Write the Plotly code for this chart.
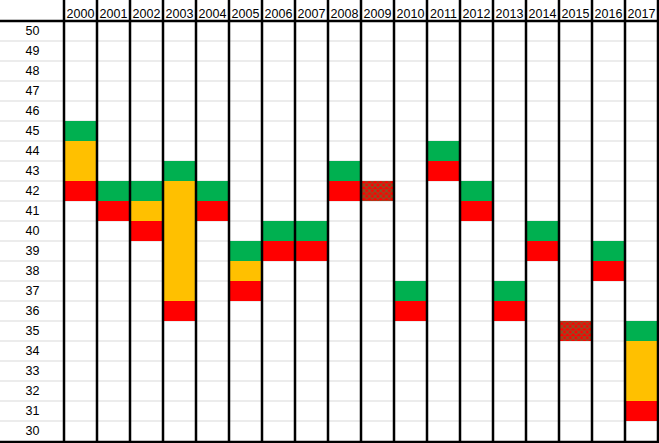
import plotly.graph_objects as go

years = [str(y) for y in range(2000, 2018)]
high = [45, 42, 42, 43, 42, 39, 40, 40, 43, 42, 37, 44, 42, 37, 40, 35, 39, 35]
low = [42, 41, 40, 36, 41, 37, 39, 39, 42, 42, 36, 43, 41, 36, 39, 35, 38, 31]
row_labels = list(range(50, 29, -1))

GREEN = "#00B050"
ORANGE = "#FFC000"
RED = "#FF0000"

ymin, ymax = 29.5, 50.5
W, H = 659, 443
ml, mr, mt, mb = 64, 1, 21, 2
pw = W - ml - mr
ph = H - mt - mb

fig = go.Figure()

# green (high) cells
gx = [x for x, h, l in zip(years, high, low) if h > l]
gh = [h for h, l in zip(high, low) if h > l]
fig.add_trace(go.Bar(x=gx, y=[1] * len(gx), base=[h - 0.5 for h in gh], width=1,
                     marker=dict(color=GREEN, line=dict(width=0)), showlegend=False))
# orange (between) cells
ox = [x for x, h, l in zip(years, high, low) if h - l > 1]
oh = [h - l - 1 for h, l in zip(high, low) if h - l > 1]
ob = [l + 0.5 for h, l in zip(high, low) if h - l > 1]
fig.add_trace(go.Bar(x=ox, y=oh, base=ob, width=1,
                     marker=dict(color=ORANGE, line=dict(width=0)), showlegend=False))
# red (low) cells
rx = [x for x, h, l in zip(years, high, low) if h > l]
rl = [l for h, l in zip(high, low) if h > l]
fig.add_trace(go.Bar(x=rx, y=[1] * len(rx), base=[l - 0.5 for l in rl], width=1,
                     marker=dict(color=RED, line=dict(width=0)), showlegend=False))
# checkered (high == low)
cx = [x for x, h, l in zip(years, high, low) if h == l]
cl = [l for h, l in zip(high, low) if h == l]
fig.add_trace(go.Bar(x=cx, y=[1] * len(cx), base=[l - 0.5 for l in cl], width=1,
                     marker=dict(color=RED, line=dict(width=0),
                                 pattern=dict(shape="x", fgcolor=GREEN, bgcolor=RED,
                                              size=4, solidity=0.5)),
                     showlegend=False))

shapes = []
left_ext = -ml / pw
# light row gridlines
for v in range(30, 50):
    yp = (v + 0.5 - ymin) / (ymax - ymin)
    shapes.append(dict(type="line", xref="paper", yref="paper", x0=left_ext, x1=1,
                       y0=yp, y1=yp, line=dict(color="#D9D9D9", width=1), layer="below"))
# thick vertical column lines
n = len(years)
for i in range(n + 1):
    xp = i / n
    shapes.append(dict(type="line", xref="paper", yref="paper", x0=xp, x1=xp,
                       y0=-mb / ph, y1=1 + mt / ph, line=dict(color="black", width=2.5),
                       layer="above"))
# thick header and bottom lines
for yp in [1.0, -1 / ph]:
    shapes.append(dict(type="line", xref="paper", yref="paper", x0=left_ext, x1=1 + mr / pw,
                       y0=yp, y1=yp, line=dict(color="black", width=2.5), layer="above"))

fig.update_layout(
    width=W, height=H,
    margin=dict(l=ml, r=mr, t=mt, b=mb, pad=0),
    plot_bgcolor="white", paper_bgcolor="white",
    barmode="overlay", bargap=0,
    shapes=shapes,
    font=dict(family="Liberation Sans, Arial, sans-serif", color="black", size=12.5),
    xaxis=dict(type="category", categoryorder="array", categoryarray=years,
               range=[-0.5, n - 0.5], side="top", showgrid=False, zeroline=False,
               showline=False, ticks="", tickfont=dict(size=12.5, color="black"),
               fixedrange=True, automargin=False),
    yaxis=dict(range=[ymin, ymax], tickvals=row_labels, ticktext=[str(v) for v in row_labels],
               showgrid=False, zeroline=False, showline=False, ticks="outside", ticklen=21,
               tickcolor="rgba(0,0,0,0)", tickfont=dict(size=12.5, color="black"),
               fixedrange=True, automargin=False),
)

fig.write_html("out.html", config={"displayModeBar": False},
               post_script="document.body.style.margin='0';document.body.style.padding='0';")
